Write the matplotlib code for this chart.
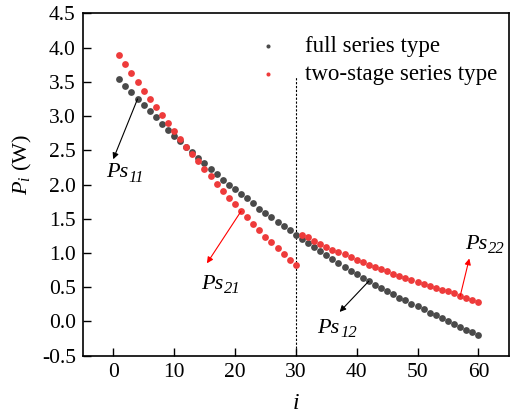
import matplotlib
matplotlib.use("Agg")
import matplotlib.pyplot as plt

plt.rcParams["font.family"] = "Liberation Serif"
plt.rcParams["mathtext.fontset"] = "custom"
plt.rcParams["mathtext.rm"] = "Liberation Serif"
plt.rcParams["mathtext.it"] = "Liberation Serif:italic"

# ---- data ----
idx = list(range(1, 61))

full_series = [3.54, 3.44, 3.35, 3.25, 3.16, 3.07, 2.98, 2.89, 2.80, 2.71,
               2.63, 2.55, 2.47, 2.39, 2.31, 2.23, 2.15, 2.07, 2.00, 1.93,
               1.86, 1.80, 1.73, 1.65, 1.58, 1.52, 1.45, 1.39, 1.33, 1.26,
               1.20, 1.15, 1.09, 1.03, 0.97, 0.91, 0.85, 0.80, 0.74, 0.69,
               0.63, 0.59, 0.54, 0.49, 0.44, 0.40, 0.35, 0.31, 0.26, 0.22,
               0.18, 0.13, 0.09, 0.05, 0.00, -0.04, -0.08, -0.12, -0.16, -0.20]

two_stage = [3.89, 3.76, 3.63, 3.50, 3.37, 3.25, 3.13, 3.01, 2.90, 2.78,
             2.66, 2.55, 2.44, 2.34, 2.23, 2.12, 2.01, 1.91, 1.81, 1.71,
             1.61, 1.52, 1.43, 1.34, 1.24, 1.16, 1.07, 0.98, 0.90, 0.82,
             1.26, 1.23, 1.18, 1.13, 1.09, 1.05, 1.01, 0.98, 0.94, 0.90,
             0.87, 0.83, 0.80, 0.77, 0.74, 0.70, 0.67, 0.64, 0.61, 0.58,
             0.55, 0.52, 0.49, 0.46, 0.44, 0.41, 0.37, 0.34, 0.32, 0.28]

series_labels = ["full series type", "two-stage series type"]
split_i = 30

# annotations: subscript, arrow start (i, P), arrow end, text position, colour
notes = [
    ("11", (4, 3.25), (0, 2.37), (-1.2, 2.17), "black"),
    ("21", (21, 1.61), (15.4, 0.85), (14.4, 0.54), "red"),
    ("12", (42, 0.59), (37.2, 0.14), (33.5, -0.10), "black"),
    ("22", (57, 0.37), (58.5, 0.92), (57.8, 1.12), "red"),
]

GRAY = "#4a4a4a"
RED = "#ee3b3b"

fig = plt.figure(figsize=(5.14, 4.19), dpi=100)
ax = fig.add_axes([0.161, 0.151, 0.829, 0.817])

ax.scatter(idx, full_series, s=24, color=GRAY, lw=0, label=series_labels[0], zorder=3)
ax.scatter(idx, two_stage, s=24, color=RED, lw=0, label=series_labels[1], zorder=3)

ax.vlines(split_i, -0.5, 3.57, colors="black", linestyles=(0, (2, 1.5)), lw=0.8)

for sub, start, end, pos, col in notes:
    ax.annotate("", xy=end, xytext=start,
                arrowprops=dict(arrowstyle="-|>", color=col, lw=0.8,
                                mutation_scale=9, shrinkA=0, shrinkB=0))
    t = ax.text(pos[0], pos[1], "Ps", fontsize=16, style="italic",
                ha="left", va="center")
    ax.annotate(sub, xy=(1.0, 0.0), xycoords=t, xytext=(0.5, 3.5),
                textcoords="offset points", fontsize=12, style="italic",
                ha="left", va="center")

ax.set_xlim(-5, 65)
ax.set_ylim(-0.5, 4.5)
ax.set_xticks(range(0, 61, 10))
ax.set_yticks([-0.5, 0.0, 0.5, 1.0, 1.5, 2.0, 2.5, 3.0, 3.5, 4.0, 4.5])
ax.set_yticklabels([f"{v:.1f}" for v in ax.get_yticks()])
ax.tick_params(direction="in", length=6, width=1, labelsize=15.5, pad=5)
for sp in ax.spines.values():
    sp.set_linewidth(1.2)

ax.set_xlabel(r"$i$", fontsize=17)
ax.set_ylabel(r"$P_i$ (W)", fontsize=16)
ax.xaxis.set_label_coords(0.5, -0.11)
ax.yaxis.set_label_coords(-0.115, 0.56)

ax.legend(loc="upper left", bbox_to_anchor=(0.345, 0.995), frameon=False,
          fontsize=16.5, markerscale=0.6, handletextpad=0.9, labelspacing=0.3,
          handlelength=1.5)

fig.savefig("out.png", dpi=100)
